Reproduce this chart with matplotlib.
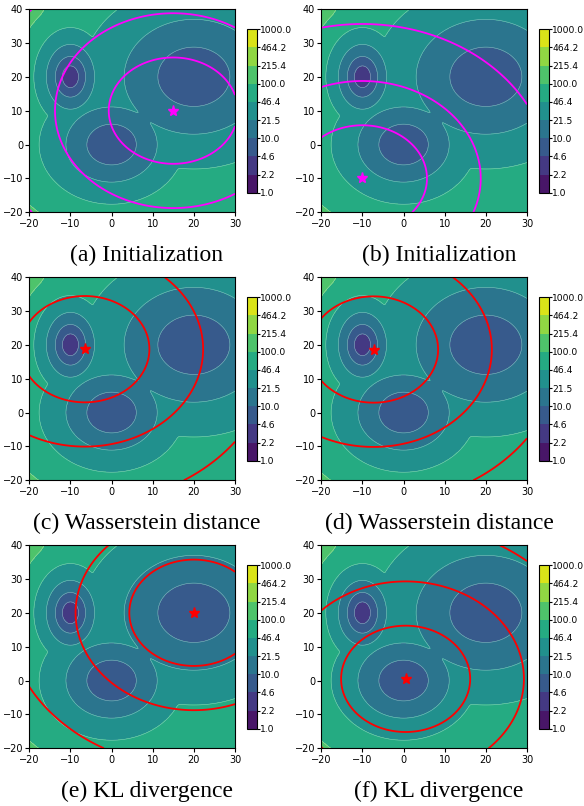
import numpy as np
import matplotlib
matplotlib.use("Agg")
import matplotlib.pyplot as plt
from matplotlib.colors import LogNorm

# target: three gaussian bumps, field = -log(sum exp(-(offset + quad)))
comp_mx = [-10.0, 0.0, 20.0]
comp_my = [20.0, 0.0, 20.0]
comp_sx = [0.95, 1.94, 3.02]
comp_sy = [1.55, 1.94, 3.02]
comp_off = [2.5, 5.2, 5.8]

# fitted gaussian shown on each panel (same spread everywhere, only the mean moves)
fit_sigma = 7.36
fit_off = 2.37
fit_mx = [15.0, -10.0, -6.5, -7.3, 20.0, 0.5]
fit_my = [10.0, -10.0, 18.7, 18.6, 20.0, 0.5]
fit_color = ['magenta', 'magenta', 'red', 'red', 'red', 'red']
captions = ['(a) Initialization', '(b) Initialization',
            '(c) Wasserstein distance', '(d) Wasserstein distance',
            '(e) KL divergence', '(f) KL divergence']

levels = np.logspace(0, 3, 10)

xs = np.linspace(-20, 30, 400)
ys = np.linspace(-20, 40, 480)
X, Y = np.meshgrid(xs, ys)

E = np.zeros_like(X)
for mx, my, sx, sy, off in zip(comp_mx, comp_my, comp_sx, comp_sy, comp_off):
    q = off + (X - mx) ** 2 / (2 * sx ** 2) + (Y - my) ** 2 / (2 * sy ** 2)
    E += np.exp(-q)
Z = -np.log(E)

W, H = 584.0, 806.0
fig = plt.figure(figsize=(W / 100, H / 100), dpi=100)

for i in range(6):
    row, col = i // 2, i % 2
    x0 = 29.3 + 292 * col
    top = 9 + 268 * row
    ax = fig.add_axes([x0 / W, 1 - (top + 203.3) / H, 205.7 / W, 203.3 / H])
    cf = ax.contourf(X, Y, Z, levels=levels, norm=LogNorm(1, 1000), cmap='viridis')
    ax.contour(X, Y, Z, levels=levels, colors='white', linewidths=0.4, alpha=0.45)

    Q = fit_off + ((X - fit_mx[i]) ** 2 + (Y - fit_my[i]) ** 2) / (2 * fit_sigma ** 2)
    ax.contour(X, Y, Q, levels=levels, colors=fit_color[i], linewidths=1.3)
    ax.plot(fit_mx[i], fit_my[i], '*', color=fit_color[i], markersize=8)

    ax.set_xlim(-20, 30)
    ax.set_ylim(-20, 40)
    ax.set_xticks([-20, -10, 0, 10, 20, 30])
    ax.set_yticks([-20, -10, 0, 10, 20, 30, 40])
    ax.tick_params(labelsize=7, length=3, pad=1.5)

    cax = fig.add_axes([(x0 + 218) / W, 1 - (top + 183.7) / H, 9.2 / W, 163.4 / H])
    cb = fig.colorbar(cf, cax=cax, ticks=levels, format='%.1f')
    cb.ax.tick_params(labelsize=6.6, length=2, pad=0.8)

    fig.text((147 + 292 * col) / W, 1 - (255 + 268 * row) / H, captions[i],
             ha='center', va='center', fontsize=17, family='Liberation Serif')

fig.savefig('out.png', dpi=100)
